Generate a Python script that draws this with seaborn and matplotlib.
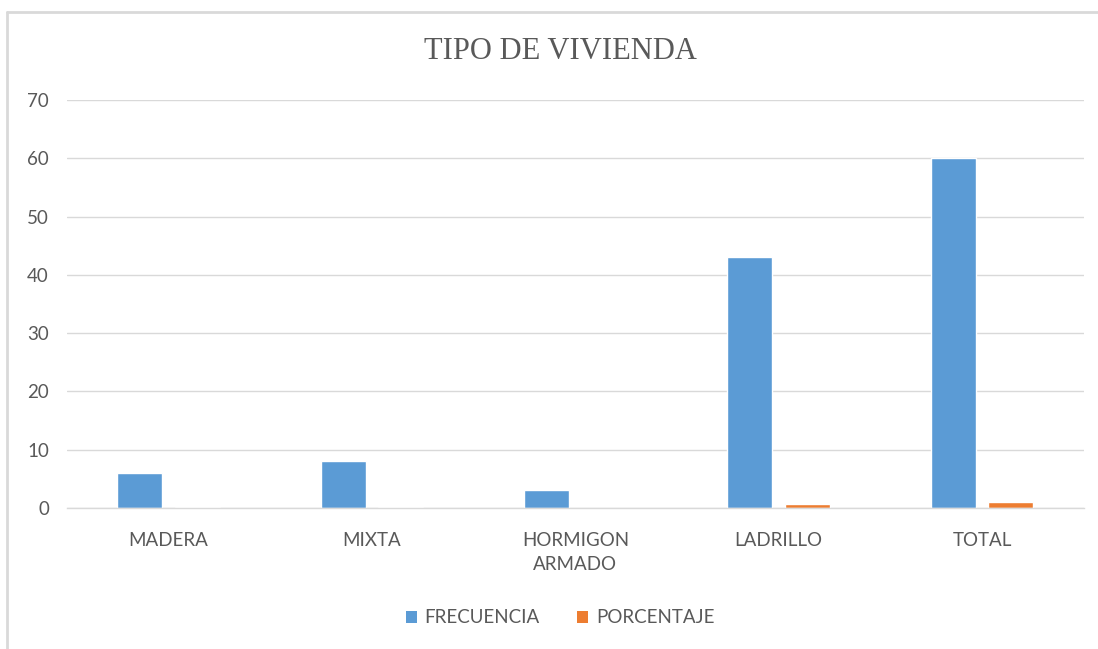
import matplotlib
matplotlib.use("Agg")
import matplotlib.pyplot as plt
from matplotlib.patches import Patch
from matplotlib.lines import Line2D
import seaborn as sns
import pandas as pd

# =========================
# DATOS
# =========================
categorias = ["MADERA", "MIXTA", "HORMIGON\nARMADO", "LADRILLO", "TOTAL"]
frecuencia = [6, 8, 3, 43, 60]
porcentaje = [0.10, 0.13, 0.05, 0.72, 1.00]
series = ["FRECUENCIA", "PORCENTAJE"]
colores = ["#5B9BD5", "#ED7D31"]
y_ticks = [0, 10, 20, 30, 40, 50, 60, 70]

df = pd.DataFrame({
    "categoria": categorias * 2,
    "valor": frecuencia + porcentaje,
    "serie": [series[0]] * len(categorias) + [series[1]] * len(categorias),
})

sns.set_style("white")
plt.rcParams["font.family"] = ["Lato", "DejaVu Sans"]

fig = plt.figure(figsize=(10.98, 6.49), dpi=100)
ax = fig.add_axes([0.061, 0.2173, 0.926, 0.6287])

sns.barplot(
    data=df,
    x="categoria",
    y="valor",
    hue="serie",
    palette=colores,
    saturation=1,
    width=0.566,
    gap=0.22,
    ax=ax,
    legend=False,
)

# =========================
# EJES
# =========================
ax.set_ylim(0, 70)
ax.set_yticks(y_ticks)
ax.set_xlim(-0.5, len(categorias) - 0.5)
ax.yaxis.grid(True, color="#d9d9d9", linewidth=1)
ax.set_axisbelow(True)
for s in ["top", "right", "left"]:
    ax.spines[s].set_visible(False)
ax.spines["bottom"].set_color("#d9d9d9")
ax.spines["bottom"].set_linewidth(1)
ax.tick_params(axis="y", length=0, pad=13, labelsize=13.5, labelcolor="#595959")
ax.tick_params(axis="x", length=0, pad=17, labelsize=13.5, labelcolor="#595959")
for lbl in ax.get_xticklabels():
    lbl.set_linespacing(1.5)
ax.set_xlabel("")
ax.set_ylabel("")

# =========================
# TITULO Y LEYENDA
# =========================
fig.text(0.51, 0.921, "TIPO DE VIVIENDA", ha="center", va="center",
         fontsize=22, color="#595959", family=["Liberation Serif"])

handles = [Patch(facecolor=c, edgecolor="none") for c in colores]
fig.legend(
    handles, series,
    loc="center", bbox_to_anchor=(0.51, 0.048),
    ncol=2, frameon=False, fontsize=13.5, labelcolor="#595959",
    handlelength=0.6, handleheight=0.6, handletextpad=0.4, columnspacing=2.0,
)

# borde del grafico
fig.add_artist(Line2D([7 / 1098, 7 / 1098], [0, 1 - 12 / 649], color="#d9d9d9", linewidth=2))
fig.add_artist(Line2D([7 / 1098, 1], [1 - 12 / 649, 1 - 12 / 649], color="#d9d9d9", linewidth=2))

fig.savefig("out.png", dpi=100)
